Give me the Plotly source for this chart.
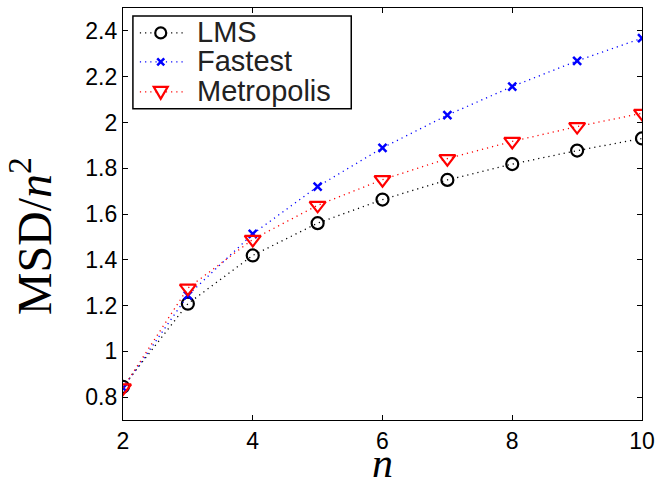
import plotly.graph_objects as go

n = [2, 3, 4, 5, 6, 7, 8, 9, 10]
lms = [0.845, 1.208, 1.419, 1.560, 1.663, 1.749, 1.818, 1.877, 1.930]
fastest = [0.840, 1.245, 1.513, 1.720, 1.889, 2.032, 2.157, 2.269, 2.368]
metropolis = [0.840, 1.276, 1.489, 1.638, 1.750, 1.842, 1.917, 1.982, 2.040]

series_names = ["LMS", "Fastest", "Metropolis"]
series_colors = ["black", "blue", "red"]

x_ticks = [2, 4, 6, 8, 10]
y_ticks = [0.8, 1.0, 1.2, 1.4, 1.6, 1.8, 2.0, 2.2, 2.4]
y_tick_text = ["0.8", "1", "1.2", "1.4", "1.6", "1.8", "2", "2.2", "2.4"]

dotted = "1.2px,4px"

fig = go.Figure()
fig.add_trace(go.Scatter(
    x=n, y=lms, name=series_names[0], mode="lines+markers",
    line=dict(color=series_colors[0], dash=dotted, width=1.3),
    marker=dict(symbol="circle-open", size=12, color=series_colors[0], line=dict(width=2.2, color=series_colors[0])),
))
fig.add_trace(go.Scatter(
    x=n, y=fastest, name=series_names[1], mode="lines+markers",
    line=dict(color=series_colors[1], dash=dotted, width=1.3),
    marker=dict(symbol="x-thin-open", size=8, color=series_colors[1], line=dict(width=2.5, color=series_colors[1])),
))
fig.add_trace(go.Scatter(
    x=n, y=metropolis, name=series_names[2], mode="lines+markers",
    line=dict(color=series_colors[2], dash=dotted, width=1.3),
    marker=dict(symbol="triangle-down-open", size=14, color=series_colors[2], line=dict(width=2.2, color=series_colors[2])),
))

axis_common = dict(
    showline=True, linecolor="black", linewidth=1.2, mirror="ticks",
    ticks="inside", ticklen=5, tickwidth=1, tickcolor="black",
    showgrid=False, zeroline=False,
    tickfont=dict(family="Liberation Sans, Arial, sans-serif", size=23, color="black"),
)

# ---- manual legend (MATLAB-style compact box) ----
shapes = []
annotations = []
box_x0, box_x1, box_y0, box_y1 = 0.0191, 0.4398, 0.7554, 0.9806
shapes.append(dict(type="rect", xref="paper", yref="paper", x0=box_x0, x1=box_x1, y0=box_y0, y1=box_y1,
                   line=dict(color="black", width=1.5), fillcolor="white", layer="above"))
row_y = [0.9395, 0.8692, 0.7966]
sample_x0, sample_x1, marker_x, text_x = 0.0325, 0.1205, 0.0727, 0.1396
marker_paths = [
    None,
    "M-3.5,-3.5 L3.5,3.5 M-3.5,3.5 L3.5,-3.5",
    "M-7,5 L7,5 L0,-7 Z",
]
for i, (name, col) in enumerate(zip(series_names, series_colors)):
    yy = row_y[i]
    shapes.append(dict(type="line", xref="paper", yref="paper", x0=sample_x0, x1=sample_x1, y0=yy, y1=yy,
                       line=dict(color=col, width=1.3, dash=dotted), layer="above"))
    if i == 0:
        shapes.append(dict(type="circle", xref="paper", yref="paper", xsizemode="pixel", ysizemode="pixel",
                           xanchor=marker_x, yanchor=yy, x0=-5.5, x1=5.5, y0=-5.5, y1=5.5,
                           line=dict(color=col, width=2.2), fillcolor="white", layer="above"))
    else:
        shapes.append(dict(type="path", xref="paper", yref="paper", xsizemode="pixel", ysizemode="pixel",
                           xanchor=marker_x, yanchor=yy, path=marker_paths[i],
                           line=dict(color=col, width=2.5 if i == 1 else 2.2),
                           fillcolor="white" if i == 2 else None, layer="above"))
    annotations.append(dict(text=name, xref="paper", yref="paper", x=text_x, y=yy + 0.002,
                            xanchor="left", yanchor="middle", showarrow=False,
                            font=dict(family="Liberation Sans, Arial, sans-serif", size=29, color="#222")))

# axis titles
annotations.append(dict(text="MSD/<i>n</i><sup>2</sup>", xref="paper", yref="paper", x=-0.178, y=0.445,
                        xanchor="center", yanchor="middle", textangle=-90, showarrow=False,
                        font=dict(family="Liberation Serif, serif", size=48, color="black")))
annotations.append(dict(text="<i>n</i>", xref="paper", yref="paper", x=0.5, y=-0.105,
                        xanchor="center", yanchor="middle", showarrow=False,
                        font=dict(family="Liberation Serif, serif", size=42, color="black")))

fig.update_layout(
    width=662, height=485,
    margin=dict(l=123, r=16, t=7, b=65),
    paper_bgcolor="white", plot_bgcolor="white",
    xaxis=dict(range=[2, 10], tickvals=x_ticks, ticktext=[str(v) for v in x_ticks], **axis_common),
    yaxis=dict(range=[0.7, 2.5], tickvals=y_ticks, ticktext=y_tick_text, **axis_common),
    showlegend=False,
    shapes=shapes,
    annotations=annotations,
)

fig.write_html("out.html")
